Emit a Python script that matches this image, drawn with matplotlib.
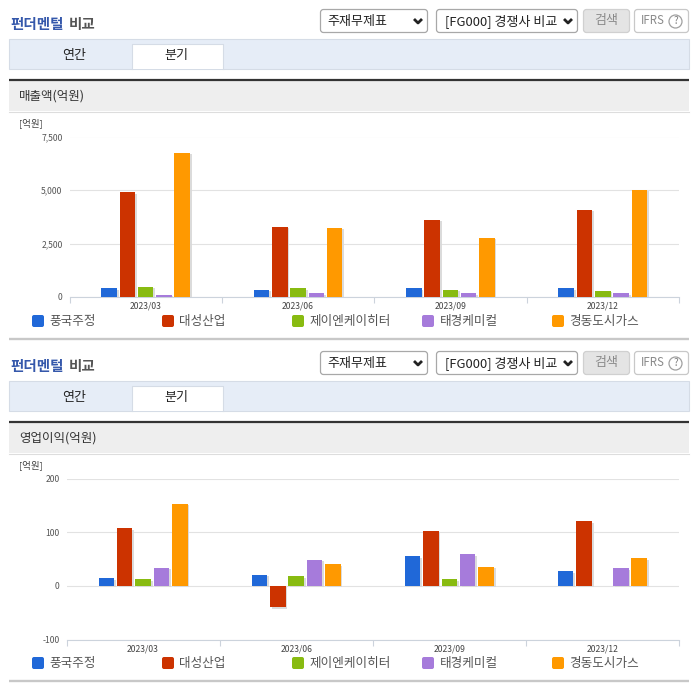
import matplotlib
matplotlib.use("Agg")
import matplotlib.pyplot as plt
import matplotlib.patheffects as pe
from matplotlib.patches import Rectangle, FancyBboxPatch, Circle

plt.rcParams['font.family'] = ['Noto Sans CJK KR', 'DejaVu Sans']

W, H = 696, 684

companies = ["풍국주정", "대성산업", "제이엔케이히터", "태경케미컬", "경동도시가스"]
colors = ["#2068d8", "#cc3300", "#88bb11", "#a67bdb", "#ff9900"]
quarters = ["2023/03", "2023/06", "2023/09", "2023/12"]

# 매출액, one list per company
sales_pungguk = [400, 330, 400, 400]
sales_daesung = [4900, 3280, 3600, 4080]
sales_jnk = [490, 400, 350, 300]
sales_taekyung = [100, 170, 170, 170]
sales_kyungdong = [6730, 3230, 2770, 5000]

# 영업이익
profit_pungguk = [14, 20, 55, 27]
profit_daesung = [107, -40, 102, 120]
profit_jnk = [12, 18, 12, 0]
profit_taekyung = [34, 49, 59, 33]
profit_kyungdong = [153, 40, 35, 51]

sales = [sales_pungguk, sales_daesung, sales_jnk, sales_taekyung, sales_kyungdong]
profit = [profit_pungguk, profit_daesung, profit_jnk, profit_taekyung, profit_kyungdong]

sales_ticks = [0, 2500, 5000, 7500]
profit_ticks = [-100, 0, 100, 200]

fig = plt.figure(figsize=(W / 100, H / 100), dpi=100)

# page furniture is drawn in pixel coordinates
bg = fig.add_axes([0, 0, 1, 1])
bg.set_xlim(0, W)
bg.set_ylim(H, 0)
bg.axis("off")


def px(size):
    return size * 0.72


def button(x0, y0, x1, y1, face="white", edge="#a8a8a8"):
    bg.add_patch(FancyBboxPatch((x0 + 3, y0 + 3), x1 - x0 - 6, y1 - y0 - 6,
                                boxstyle="round,pad=3,rounding_size=3",
                                fc=face, ec=edge, lw=0.9))


def chevron(x, y):
    bg.plot([x - 4, x, x + 4], [y - 2, y + 2, y - 2], color="#222222", lw=2, solid_capstyle="butt")


def panel(off, section):
    bg.text(10, 24.5 + off, "펀더멘털", color="#3558ab", fontsize=px(14.5), fontweight="bold", va="center")
    bg.text(69, 24.5 + off, "비교", color="#555555", fontsize=px(14.5), fontweight="bold", va="center")

    button(320.5, 9.5 + off, 427.5, 32.5 + off)
    bg.text(327, 21 + off, "주재무제표", fontsize=px(13), color="#222222", va="center")
    chevron(418, 21 + off)
    button(436.5, 9.5 + off, 577.5, 32.5 + off)
    bg.text(445, 21 + off, "[FG000] 경쟁사 비교", fontsize=px(13), color="#222222", va="center")
    chevron(568, 21 + off)
    button(583.5, 9.5 + off, 629.5, 32.5 + off, face="#e4e4e4", edge="#d0d0d0")
    bg.text(606.5, 20.5 + off, "검색", fontsize=px(13), color="#8a8a8a", ha="center", va="center")
    button(634.5, 9.5 + off, 688.5, 32.5 + off, edge="#c8c8c8")
    bg.text(641, 21 + off, "IFRS", fontsize=px(11.5), color="#8a8a8a", va="center")
    bg.add_patch(Circle((675.5, 21.5 + off), 6.5, fc="white", ec="#a0a0a0", lw=0.9))
    bg.text(675.5, 21.5 + off, "?", fontsize=px(10), color="#808080", ha="center", va="center")

    bg.add_patch(Rectangle((9, 39 + off), 680, 29.5, fc="#e6edf7", ec="#d5dce6", lw=0.8))
    # active tab: white box, open at the bottom edge
    bg.add_patch(Rectangle((131.5, 44 + off), 91, 25, fc="white", ec="none", zorder=2))
    bg.plot([131.5, 131.5, 222.5, 222.5], [68.5 + off, 44 + off, 44 + off, 68.5 + off],
            color="#d5dce6", lw=0.8, zorder=3)
    bg.text(74, 55.5 + off, "연간", fontsize=px(13), color="#222222", ha="center", va="center")
    bg.text(176, 55.5 + off, "분기", fontsize=px(13), color="#222222", ha="center", va="center", zorder=4)

    bg.add_patch(Rectangle((9, 81 + off), 680, 30, fc="#eeeeee", ec="none"))
    bg.plot([9, 689], [111.5 + off, 111.5 + off], color="#dddddd", lw=0.8)
    bg.plot([9, 689], [80 + off, 80 + off], color="#333333", lw=1.6, solid_capstyle="butt")
    bg.text(19, 96.5 + off, section, fontsize=px(12.5), color="#333333", va="center")
    bg.text(19, 123 + off, "[억원]", fontsize=px(9.5), color="#444444", va="center")

    for k, name in enumerate(companies):
        x = 32 + 130 * k
        bg.add_patch(FancyBboxPatch((x + 1, 316 + off), 10, 10, boxstyle="round,pad=1,rounding_size=2",
                                    fc=colors[k], ec="none"))
        bg.text(x + 17.5, 321.5 + off, name, fontsize=px(12.6), color="#555555", va="center")
    bg.plot([9, 689], [338.5 + off, 338.5 + off], color="#c8c8c8", lw=1.7, solid_capstyle="butt")


panel(0, "매출액(억원)")
panel(342, "영업이익(억원)")


def chart(left, right, top, bottom, series, ticks, fmt):
    ax = fig.add_axes([left / W, 1 - bottom / H, (right - left) / W, (bottom - top) / H])
    ax.patch.set_alpha(0)
    ax.set_xlim(0, 4)
    ax.set_ylim(ticks[0], ticks[-1])
    for k, vals in enumerate(series):
        xs = [i + 0.5 + (k - 2) * 0.12 for i in range(len(vals))]
        ax.bar(xs, vals, width=0.102, color=colors[k], zorder=3,
               path_effects=[pe.SimplePatchShadow(offset=(1.2, -1), shadow_rgbFace="#d8d8d8", alpha=0.9),
                             pe.Normal()])
    for s in ["top", "left", "right"]:
        ax.spines[s].set_visible(False)
    ax.spines["bottom"].set_color("#ccd3dc")
    ax.spines["bottom"].set_linewidth(0.8)
    ax.set_yticks(ticks)
    ax.set_yticklabels([fmt(t) for t in ticks], fontsize=px(8.6), color="#555555")
    ax.tick_params(axis="y", length=0, pad=5)
    ax.grid(axis="y", color="#e2e2e2", lw=0.8, zorder=0)
    ax.set_xticks(range(5))
    ax.set_xticklabels([])
    ax.set_xticks([i + 0.5 for i in range(4)], minor=True)
    ax.set_xticklabels(quarters, minor=True, fontsize=px(8.6), color="#444444")
    ax.tick_params(axis="x", which="major", length=4, color="#ccd3dc", width=0.8)
    ax.tick_params(axis="x", which="minor", length=0, pad=3.5)
    return ax


chart(69.5, 679, 136.5, 297, sales, sales_ticks, lambda t: f"{t:,}")
chart(66.5, 679, 478.5, 639.5, profit, profit_ticks, lambda t: f"{t}")

fig.savefig("out.png", dpi=100)
